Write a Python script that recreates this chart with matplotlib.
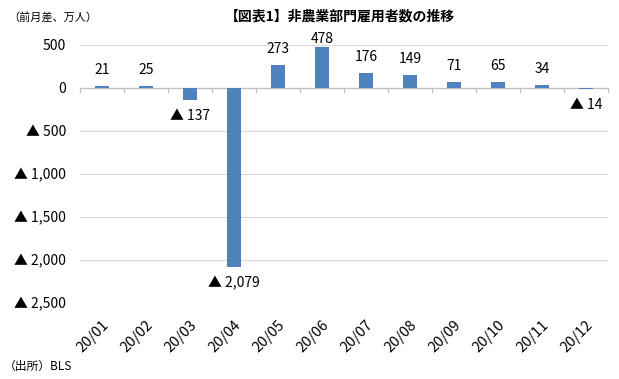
import matplotlib
matplotlib.use("Agg")
import matplotlib.pyplot as plt
from matplotlib.ticker import FuncFormatter, FixedLocator
import numpy as np

plt.rcParams['font.family'] = ['Noto Sans CJK JP', 'DejaVu Sans']

months = ["20/01", "20/02", "20/03", "20/04", "20/05", "20/06",
          "20/07", "20/08", "20/09", "20/10", "20/11", "20/12"]
values = [21, 25, -137, -2079, 273, 478, 176, 149, 71, 65, 34, -14]
yticks = [500, 0, -500, -1000, -1500, -2000, -2500]

def fmt(v):
    if v < 0:
        return "▲ {:,}".format(int(-v))
    return "{:,}".format(int(v))

fig = plt.figure(figsize=(6.19, 3.79), dpi=100)
ax = fig.add_axes([80/619, 1-303/379, (608-80)/619, (303-45)/379])

x = np.arange(len(values))
ax.bar(x, values, width=0.32, color="#4F81BD", zorder=3)
ax.set_xlim(-0.5, len(values)-0.5)
ax.set_ylim(-2500, 500)
ax.yaxis.set_major_locator(FixedLocator(yticks))
ax.yaxis.set_major_formatter(FuncFormatter(lambda v, p: fmt(v)))
ax.grid(axis='y', color="#D9D9D9", linewidth=0.8, zorder=0)
for s in ax.spines.values():
    s.set_visible(False)
ax.axhline(0, color="#BFBFBF", linewidth=0.9, zorder=2)
ax.tick_params(axis='y', length=0, labelsize=10, pad=10)
ax.set_xticks(x)
ax.set_xticklabels(months, rotation=45, ha='right', rotation_mode='anchor', fontsize=10.5)
ax.tick_params(axis='x', length=0, pad=11)
# category boundary ticks on zero line
for b in np.arange(-0.5, len(values), 1.0):
    ax.plot([b, b], [0, -50], color="#BFBFBF", linewidth=0.9, zorder=2, clip_on=False)

off = 186
for xi, v in zip(x, values):
    if v >= 0:
        ax.text(xi, min(v + off, 570), fmt(v), ha='center', va='center', fontsize=10)
    else:
        ax.text(xi, v - off, fmt(v), ha='center', va='center', fontsize=10)

fig.text(340/619, 1-17/379, "【図表1】非農業部門雇用者数の推移", ha='center', va='center',
         fontsize=10, fontweight='bold')
fig.text(8/619, 1-17/379, "（前月差、万人）", ha='left', va='center', fontsize=8)
fig.text(4/619, 1-366/379, "（出所）BLS", ha='left', va='center', fontsize=8.5)

fig.savefig("out.png", dpi=100)
